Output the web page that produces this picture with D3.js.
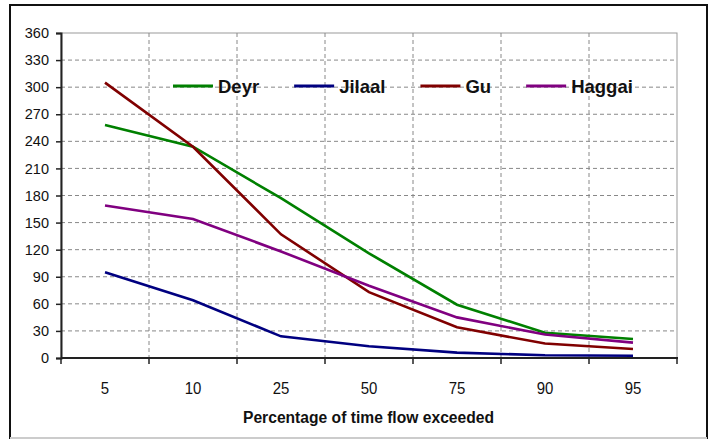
<!DOCTYPE html>
<html>
<head>
<meta charset="utf-8">
<script src="https://cdn.jsdelivr.net/npm/d3@7"></script>
<style>
  body { margin: 0; background: #fff; }
  text { font-family: "Liberation Sans", Arial, sans-serif; fill: #111; }
</style>
</head>
<body>
<svg id="chart_svg" width="713" height="439"></svg>
<script>
// categories on the x axis (percentage of time flow exceeded)
var categories = ["5", "10", "25", "50", "75", "90", "95"];
var yTicks = [0, 30, 60, 90, 120, 150, 180, 210, 240, 270, 300, 330, 360];

// flow values per season
var deyr   = [258, 234, 177, 116, 59, 28, 21];
var jilaal = [95, 64, 24, 13, 6, 3, 2.5];
var gu     = [305, 234, 137, 73, 34, 16, 10];
var haggai = [169, 154, 118, 80, 45, 26, 17];

var seriesNames = ["Deyr", "Jilaal", "Gu", "Haggai"];
var seriesColors = ["#008000", "#000080", "#800000", "#800080"];

var PLOT = { LEFT: 61, RIGHT: 677, TOP: 33, BOTTOM: 358 };

var svg = d3.select("#chart_svg");

// outer chart frame
svg.append("rect").attr("x", 10).attr("y", 5).attr("width", 697).attr("height", 433)
  .attr("fill", "#fff").attr("stroke", "#111").attr("stroke-width", 2);
svg.append("line").attr("x1", 10).attr("x2", 707).attr("y1", 438).attr("y2", 438)
  .attr("stroke", "#ccc").attr("stroke-width", 2);

var x = d3.scaleBand().domain(categories).range([PLOT.LEFT, PLOT.RIGHT]).padding(0);
var y = d3.scaleLinear().domain([0, 360]).range([PLOT.BOTTOM, PLOT.TOP]);

// plot area border (gray)
svg.append("rect").attr("x", PLOT.LEFT).attr("y", PLOT.TOP)
  .attr("width", PLOT.RIGHT - PLOT.LEFT).attr("height", PLOT.BOTTOM - PLOT.TOP)
  .attr("fill", "none").attr("stroke", "#999").attr("stroke-width", 1);

// horizontal dashed gridlines
svg.append("g").selectAll("line").data(yTicks.filter(function (d) { return d > 0 && d < 360; }))
  .enter().append("line")
  .attr("x1", PLOT.LEFT).attr("x2", PLOT.RIGHT)
  .attr("y1", function (d) { return y(d); }).attr("y2", function (d) { return y(d); })
  .attr("stroke", "#888").attr("stroke-dasharray", "4,3");

// vertical dashed gridlines at category boundaries
svg.append("g").selectAll("line").data(categories.slice(1))
  .enter().append("line")
  .attr("x1", function (d) { return x(d); }).attr("x2", function (d) { return x(d); })
  .attr("y1", PLOT.TOP).attr("y2", PLOT.BOTTOM)
  .attr("stroke", "#888").attr("stroke-dasharray", "4,3");

// y axis
var yAxis = svg.append("g").attr("transform", "translate(" + PLOT.LEFT + ",0)")
  .call(d3.axisLeft(y).tickValues(yTicks).tickSize(5).tickPadding(7));
yAxis.select(".domain").attr("stroke", "#222").attr("stroke-width", 2);
yAxis.selectAll(".tick line").attr("stroke", "#222").attr("stroke-width", 1.5);
yAxis.selectAll(".tick text").attr("font-size", 14.5).attr("fill", "#111")
  .attr("font-family", "Liberation Sans, Arial, sans-serif");

// x axis: ticks at category boundaries, labels at centres
var xAxis = svg.append("g").attr("transform", "translate(0," + PLOT.BOTTOM + ")");
xAxis.append("line").attr("x1", PLOT.LEFT).attr("x2", PLOT.RIGHT + 1).attr("y1", 0).attr("y2", 0)
  .attr("stroke", "#222").attr("stroke-width", 2);
xAxis.selectAll(".xtick").data(categories.concat(["end"]))
  .enter().append("line")
  .attr("x1", function (d, i) { return i < categories.length ? x(d) : PLOT.RIGHT; })
  .attr("x2", function (d, i) { return i < categories.length ? x(d) : PLOT.RIGHT; })
  .attr("y1", 0).attr("y2", 6).attr("stroke", "#222").attr("stroke-width", 1.5);
xAxis.selectAll(".xlabel").data(categories)
  .enter().append("text")
  .attr("transform", function (d) { return "translate(" + (x(d) + x.bandwidth() / 2) + ",36) scale(1,1.15)"; })
  .attr("text-anchor", "middle").attr("font-size", 15).text(function (d) { return d; });

// axis title
svg.append("text").attr("x", 243).attr("y", 423).attr("font-size", 16).attr("font-weight", "bold")
  .attr("textLength", 251).attr("lengthAdjust", "spacingAndGlyphs")
  .text("Percentage of time flow exceeded");

// lines
var allSeries = [deyr, jilaal, gu, haggai];
var line = d3.line()
  .x(function (d, i) { return x(categories[i]) + x.bandwidth() / 2; })
  .y(function (d) { return y(d); });

svg.append("g").selectAll("path").data(allSeries)
  .enter().append("path")
  .attr("d", line)
  .attr("fill", "none")
  .attr("stroke", function (d, i) { return seriesColors[i]; })
  .attr("stroke-width", 2.6);

// legend
var legend = svg.append("g").attr("transform", "translate(173,86)");
var lx = 0;
seriesNames.forEach(function (name, i) {
  legend.append("line").attr("x1", lx).attr("x2", lx + 40).attr("y1", 0).attr("y2", 0)
    .attr("stroke", seriesColors[i]).attr("stroke-width", 3);
  var t = legend.append("text").attr("x", lx + 45).attr("y", 6.5)
    .attr("font-size", 18.5).attr("font-weight", "bold").text(name);
  lx += 45 + t.node().getComputedTextLength() + 35;
});
</script>
</body>
</html>
